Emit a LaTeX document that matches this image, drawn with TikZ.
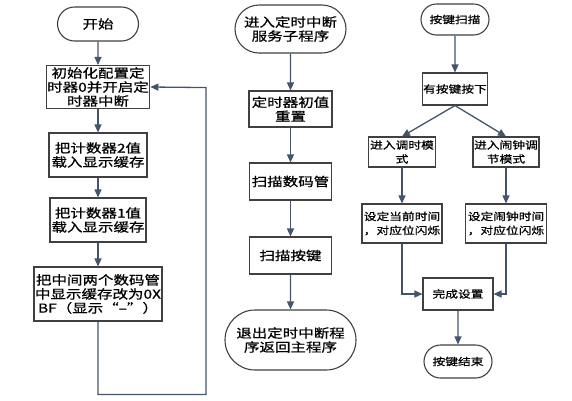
\documentclass[tikz,border=0pt]{standalone}
\usepackage{fontspec}
\setmainfont{Noto Sans CJK SC}[FakeStretch = 1.25, FakeBold = 0.8]
\usepackage{tikz}
\usetikzlibrary{shapes, arrows.meta}
\usetikzlibrary{positioning}
\definecolor{edgeblue}{RGB}{68, 84, 106}
\definecolor{boxgray}{RGB}{64, 64, 64}
\newcommand{\flowfont}{\fontsize{12.4}{14}\selectfont}
\newcommand{\keyfont}{\fontsize{10.2}{14}\selectfont}
\tikzstyle{box} = [rectangle, minimum width = 82, minimum height = 36, draw =
  boxgray, line width = 1.1, inner sep = 1, align = center, font = \flowfont]
\tikzstyle{term} = [
  rounded rectangle,
  minimum width = 82, minimum height = 34,
  draw = boxgray, line width = 1.1, inner sep = 1,
  align = center, font = \flowfont
]
\tikzstyle{keybox} = [box, font = \keyfont]
\tikzstyle{keyterm} = [term, font = \keyfont]
\tikzstyle{flow} = [draw = edgeblue, line width = 1.3]

\begin{document}
\begin{tikzpicture}[node distance = 0, x = 1pt, y = 1pt,
    > = {Triangle[length = 8pt, width = 7pt]}]
      \useasboundingbox (0, 0) rectangle (572, -400);
      % main
      \node [term, minimum width = 83, minimum height = 34] (main-0) at (98, -24) {开始};
      \node [box, below of = main-0, yshift = -63, minimum width = 103,
        minimum height = 43] (main-1) {初始化配置定\\时器0并开启定\\时器中断};
      \node [box, below of = main-1, yshift = -68, minimum width = 98,
        minimum height = 44] (main-2) {把计数器2值\\载入显示缓存};
      \node [box, below of = main-2, yshift = -65, minimum width = 96,
        minimum height = 44] (main-3) {把计数器1值\\载入显示缓存};
      \node [box, below of = main-3, yshift = -74, minimum width = 127,
        minimum height = 54] (main-4) {把中间两个数码管\\中显示缓存改为0X\\BF（显示“–”）};
      % isr
      \node [term, minimum width = 113, minimum height = 48] (isr-0) at (290.5, -29)
        {进入定时中断\\服务子程序};
      \node [box, below of = isr-0, yshift = -80, minimum width = 83] (isr-1) {定时器初值\\重置};
      \node [box, below of = isr-1, yshift = -72.5, minimum height = 37] (isr-2) {扫描数码管};
      \node [box, below of = isr-2, yshift = -74, minimum height = 37] (isr-3) {扫描按键};
      \node [term, below of = isr-3, yshift = -84.5, minimum width = 133,
        minimum height = 60] (isr-4) {退出定时中断程\\序返回主程序};
      % keys
      \node [keyterm, minimum width = 70, minimum height = 31] (key-0) at (455, -19.5) {按键扫描};
      \node [keybox, below of = key-0, yshift = -69.5, minimum width = 65,
        minimum height = 32] (key-1) {有按键按下};
      \node [keybox, below of = key-1, xshift = -53, yshift = -63, minimum width = 67,
        minimum height = 30] (key-2) {进入调时模\\式};
      \node [keybox, below of = key-1, xshift = 51, yshift = -63, minimum width = 66,
        minimum height = 30] (key-3) {进入闹钟调\\节模式};
      \node [keybox, below of = key-2, yshift = -71.5, minimum width = 80,
        minimum height = 39] (key-4) {设定当前时间\\，对应位闪烁};
      \node [keybox, below of = key-3, yshift = -71.5, minimum width = 81,
        minimum height = 39] (key-5) {设定闹钟时间\\，对应位闪烁};
      \node [keybox, below of = key-1, xshift = 3, yshift = -205, minimum width = 70,
        minimum height = 32] (key-6) {完成设置};
      \node [keyterm, below of = key-6, yshift = -67.5, minimum width = 70,
        minimum height = 33] (key-7) {按键结束};

      \draw [flow, ->] (main-0) -- (main-1);
      \draw [flow, ->] (main-1) -- (main-2);
      \draw [flow, ->] (main-2) -- (main-3);
      \draw [flow, ->] (main-3) -- (main-4);
      \draw [flow, ->] (main-4.south) -- +(0, -73) -- +(108, -73) -- +(108, 234) --
      (main-1.east);

      \draw [flow, ->] (isr-0) -- (isr-1);
      \draw [flow, ->] (isr-1) -- (isr-2);
      \draw [flow, ->] (isr-2) -- (isr-3);
      \draw [flow, ->] (isr-3) -- (isr-4);

      \draw [flow, ->] (key-0) -- (key-1);
      \draw [flow, ->] (key-1.south) -- (key-2.north);
      \draw [flow, ->] (key-1.south) -- (key-3.north);
      \draw [flow, ->] (key-2) -- (key-4);
      \draw [flow, ->] (key-3) -- (key-5);
      \draw [flow, ->] (key-4.south) |- (key-6.west);
      \draw [flow, ->] (key-5.south) |- (key-6.east);
      \draw [flow, ->] (key-6) -- (key-7);
    \end{tikzpicture}
\end{document}
